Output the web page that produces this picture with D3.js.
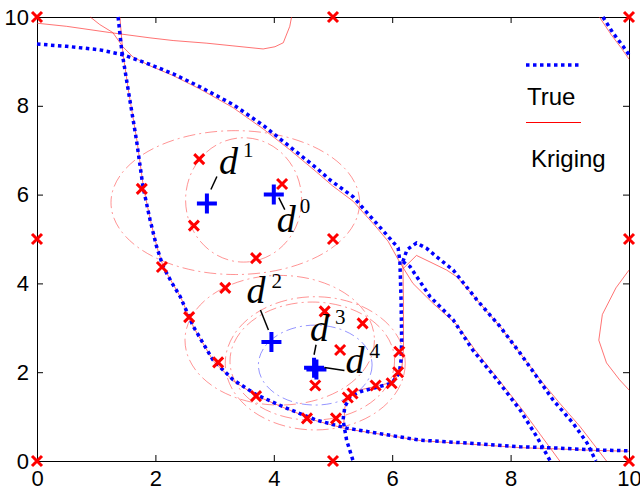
<!DOCTYPE html>
<html>
<head>
<meta charset="utf-8">
<script src="https://cdn.jsdelivr.net/npm/d3@7"></script>
<style>
    body { margin: 0; background: #ffffff; }
</style>
</head>
<body>
<script>

var width = 640,
    height = 491,
    plotLeft = 37, plotRight = 629, plotTop = 17, plotBottom = 461;

var tickValues = [0, 2, 4, 6, 8, 10];

// sample sites (red crosses)
var samples = [
    [0, 0], [0, 5], [0, 10], [5, 0], [5, 5], [5, 10], [10, 0], [10, 5], [10, 10],
    [2.74, 6.8], [2.65, 5.3], [4.14, 6.24], [1.77, 6.13], [3.7, 4.57], [2.11, 4.37],
    [3.18, 3.9], [2.57, 3.24], [3.06, 2.22], [3.7, 1.46], [4.56, 0.96], [5.05, 0.96],
    [4.86, 3.37], [5.5, 3.1], [5.12, 2.5], [4.7, 1.7], [5.25, 1.43], [5.33, 1.52],
    [5.72, 1.7], [5.99, 1.75], [6.1, 2.0], [6.12, 2.46]
];

// design points d^0 .. d^4 (blue plus)
var designNames = ['0', '1', '2', '3', '4'];
var designX = [4.0, 2.87, 3.96, 4.68, 4.72];
var designY = [6.0, 5.8, 2.68, 2.1, 2.06];

// true limit-state contours
var trueA = [
    [0, 9.39], [0.5, 9.34], [1.06, 9.26], [1.45, 9.15], [1.91, 8.93], [2.3, 8.72],
    [2.75, 8.43], [3.31, 8.03], [3.82, 7.56], [4.27, 7.08], [4.72, 6.6], [4.95, 6.33],
    [5.34, 5.95], [5.63, 5.51], [5.91, 5.09], [6.1, 4.8], [6.13, 4.49], [6.15, 3.63],
    [6.16, 2.73], [6.15, 2.28], [6.12, 1.98], [5.99, 1.75], [5.71, 1.65], [5.46, 1.56],
    [5.29, 1.45], [5.2, 1.22], [5.17, 0.92], [5.23, 0.47], [5.34, 0]
];
var trueB = [
    [1.37, 10], [1.43, 9.26], [1.54, 8.36], [1.68, 7.23], [1.79, 6.18], [1.91, 5.43],
    [2.02, 4.83], [2.13, 4.38], [2.28, 4.01], [2.42, 3.7], [2.64, 3.03], [2.97, 2.28],
    [3.31, 1.83], [3.71, 1.49], [4.16, 1.22], [4.72, 0.92], [5.23, 0.74], [5.91, 0.59],
    [6.47, 0.47], [7.31, 0.4], [8.16, 0.32], [8.83, 0.29], [9.39, 0.25], [10, 0.23]
];
var trueC = [
    [6.18, 4.49], [6.25, 4.76], [6.41, 4.91], [6.58, 4.79], [6.75, 4.6], [7.03, 4.3],
    [7.43, 3.63], [7.82, 3.03], [8.16, 2.43], [8.44, 1.9], [8.72, 1.37], [9.05, 0.86],
    [9.29, 0.41], [9.44, 0]
];
var trueD = [
    [6.18, 4.49], [6.3, 4.38], [6.64, 3.7], [7.03, 3.18], [7.36, 2.5], [7.77, 1.83],
    [8.16, 1.15], [8.44, 0.55], [8.67, 0]
];
var trueE = [[9.56, 10], [9.73, 9.64], [9.9, 9.34], [10, 9.15]];

// kriging estimate of the contours
var krigTop = [
    [0, 9.86], [0.5, 9.79], [1.23, 9.65], [1.91, 9.53], [2.3, 9.47], [2.87, 9.41],
    [3.31, 9.35], [3.82, 9.28], [4.02, 9.33], [4.16, 9.42], [4.27, 9.79], [4.3, 10]
];
var krigA = [
    [0.9, 10], [1.06, 9.83], [1.28, 9.65], [1.45, 9.33], [1.62, 9.1], [1.91, 8.9],
    [2.3, 8.68], [2.75, 8.38], [3.31, 7.96], [3.82, 7.48], [4.27, 7.01], [4.72, 6.51],
    [4.99, 6.2], [5.34, 5.85], [5.71, 5.3], [5.93, 4.95], [6.13, 4.47], [6.35, 4.0],
    [6.69, 3.55], [7.09, 3.07], [7.4, 2.5], [7.8, 1.83], [8.2, 1.15], [8.5, 0.6], [8.83, 0]
];
var krigLoop = [
    [6.18, 4.55], [6.19, 3.6], [6.19, 2.5], [6.16, 2.05], [6.02, 1.78], [5.72, 1.68],
    [5.45, 1.6], [5.27, 1.5], [5.2, 1.2], [5.18, 0.8]
];
var krigC = [
    [6.19, 4.34], [6.41, 4.63], [6.69, 4.45], [6.92, 4.3], [7.09, 4.15], [7.43, 3.63],
    [7.82, 3.03], [8.16, 2.43], [8.5, 1.83], [8.83, 1.3], [9.17, 0.78], [9.39, 0.4], [9.62, 0]
];
var krigB = [
    [1.4, 10], [1.45, 9.2], [1.55, 8.3], [1.69, 7.2], [1.8, 6.15], [1.92, 5.4],
    [2.03, 4.8], [2.14, 4.35], [2.43, 3.68], [2.65, 3.0], [2.98, 2.25], [3.32, 1.8],
    [3.72, 1.46], [4.17, 1.2], [4.73, 0.9], [5.24, 0.72], [5.92, 0.58], [6.48, 0.46],
    [7.32, 0.38], [8.17, 0.3], [8.84, 0.27], [9.4, 0.24], [10, 0.22]
];
var krigRight = [[10, 4.3], [9.78, 3.9], [9.55, 3.3], [9.49, 2.72], [9.62, 2.21], [9.84, 1.83], [10, 1.6]];
var krigE = [[9.5, 10], [9.7, 9.6], [9.87, 9.3], [10, 9.05]];

// kriging variance contours: cx, cy, rx, ry
var varEllipses = [
    [3.35, 5.82, 2.1, 1.62],
    [3.49, 5.88, 0.98, 1.4],
    [4.1, 2.72, 1.6, 1.46],
    [4.65, 2.25, 1.39, 1.33],
    [4.7, 2.2, 1.52, 1.5]
];
var innerEllipse = [4.7, 2.16, 0.96, 0.9];

var x = d3.scaleLinear().domain([0, 10]).range([plotLeft, plotRight]);
var y = d3.scaleLinear().domain([0, 10]).range([plotBottom, plotTop]);

var svg = d3.select('body').append('svg')
    .attr('width', width)
    .attr('height', height);

var line = d3.line()
    .x(function(d) { return x(d[0]); })
    .y(function(d) { return y(d[1]); });

// axes, ticks pointing inward
var font = '"Liberation Sans", Arial, sans-serif';

svg.append('g')
    .attr('transform', 'translate(0,' + plotBottom + ')')
    .call(d3.axisBottom(x).tickValues(tickValues).tickSize(-6).tickSizeOuter(0).tickPadding(9));
svg.append('g')
    .attr('transform', 'translate(' + plotLeft + ',0)')
    .call(d3.axisLeft(y).tickValues(tickValues).tickSize(-6).tickSizeOuter(0).tickPadding(8));
svg.append('g')
    .attr('transform', 'translate(0,' + plotTop + ')')
    .call(d3.axisTop(x).tickValues(tickValues).tickSize(-6).tickSizeOuter(0).tickFormat(''));
svg.append('g')
    .attr('transform', 'translate(' + plotRight + ',0)')
    .call(d3.axisRight(y).tickValues(tickValues).tickSize(-6).tickSizeOuter(0).tickFormat(''));

svg.selectAll('.tick text')
    .attr('font-family', font)
    .attr('font-size', '22px')
    .attr('fill', '#000');
svg.selectAll('.domain, .tick line').attr('stroke', '#000');

// variance contours
svg.selectAll('ellipse.var')
    .data(varEllipses)
    .enter().append('ellipse')
    .attr('class', 'var')
    .attr('cx', function(d) { return x(d[0]); })
    .attr('cy', function(d) { return y(d[1]); })
    .attr('rx', function(d) { return x(d[2]) - x(0); })
    .attr('ry', function(d) { return y(0) - y(d[3]); })
    .attr('fill', 'none')
    .attr('stroke', '#ff3030')
    .attr('stroke-opacity', 0.65)
    .attr('stroke-width', 0.8)
    .attr('stroke-dasharray', '12,4,2,4');

svg.append('ellipse')
    .attr('cx', x(innerEllipse[0]))
    .attr('cy', y(innerEllipse[1]))
    .attr('rx', x(innerEllipse[2]) - x(0))
    .attr('ry', y(0) - y(innerEllipse[3]))
    .attr('fill', 'none')
    .attr('stroke', '#4040ff')
    .attr('stroke-opacity', 0.7)
    .attr('stroke-width', 0.8)
    .attr('stroke-dasharray', '10,4,2,4');

// kriging contours
var krigLines = [krigTop, krigA, krigLoop, krigC, krigB, krigRight, krigE];
svg.selectAll('path.krig')
    .data(krigLines)
    .enter().append('path')
    .attr('class', 'krig')
    .attr('d', line)
    .attr('fill', 'none')
    .attr('stroke', '#ff2020')
    .attr('stroke-opacity', 0.7)
    .attr('stroke-width', 0.9);

// true contours
var trueLines = [trueA, trueB, trueC, trueD, trueE];
svg.selectAll('path.true')
    .data(trueLines)
    .enter().append('path')
    .attr('class', 'true')
    .attr('d', line)
    .attr('fill', 'none')
    .attr('stroke', '#0000ff')
    .attr('stroke-width', 3.5)
    .attr('stroke-dasharray', '3.5,3.5');

// samples
svg.selectAll('path.sample')
    .data(samples)
    .enter().append('path')
    .attr('class', 'sample')
    .attr('transform', function(d) { return 'translate(' + x(d[0]) + ',' + y(d[1]) + ')'; })
    .attr('d', 'M-5,-5L5,5M-5,5L5,-5')
    .attr('stroke', '#ff0000')
    .attr('stroke-width', 3);

// design points
var design = designNames.map(function(n, i) {
    return { name: n, x: designX[i], y: designY[i] };
});

svg.selectAll('path.design')
    .data(design)
    .enter().append('path')
    .attr('class', 'design')
    .attr('transform', function(d) { return 'translate(' + x(d.x) + ',' + y(d.y) + ')'; })
    .attr('d', 'M-10,0H10M0,-10V10')
    .attr('stroke', '#0000ff')
    .attr('stroke-width', 4);

// label placement relative to each plus: d glyph, superscript, leader line
var labelPos = {
    '0': { dx: 3,   dy: 37,  sx: 26, sy: 18,  l: [5, 3, 11, 15] },
    '1': { dx: 12,  dy: -29, sx: 36, sy: -46, l: [10, -27, 4, -14] },
    '2': { dx: -25, dy: -39, sx: 0,  sy: -54, l: [-11, -32, -3, -12] },
    '3': { dx: -4,  dy: -27, sx: 21, sy: -44, l: [2, -23, 0, -13] },
    '4': { dx: 29,  dy: 3,   sx: 53, sy: -12, l: [8, -2, 28, 1] }
};

var labels = svg.selectAll('g.lab')
    .data(design)
    .enter().append('g')
    .attr('class', 'lab')
    .attr('transform', function(d) { return 'translate(' + x(d.x) + ',' + y(d.y) + ')'; });

labels.append('line')
    .attr('x1', function(d) { return labelPos[d.name].l[0]; })
    .attr('y1', function(d) { return labelPos[d.name].l[1]; })
    .attr('x2', function(d) { return labelPos[d.name].l[2]; })
    .attr('y2', function(d) { return labelPos[d.name].l[3]; })
    .attr('stroke', '#000')
    .attr('stroke-width', 1.5);

labels.append('text')
    .attr('x', function(d) { return labelPos[d.name].dx; })
    .attr('y', function(d) { return labelPos[d.name].dy; })
    .attr('font-family', '"Liberation Serif", "Times New Roman", serif')
    .attr('font-style', 'italic')
    .attr('font-size', '38px')
    .text('d');

labels.append('text')
    .attr('x', function(d) { return labelPos[d.name].sx; })
    .attr('y', function(d) { return labelPos[d.name].sy; })
    .attr('font-family', '"Liberation Serif", "Times New Roman", serif')
    .attr('font-size', '21px')
    .text(function(d) { return d.name; });

// legend
var legend = svg.append('g');
legend.append('line')
    .attr('x1', 526).attr('x2', 580).attr('y1', 65).attr('y2', 65)
    .attr('stroke', '#0000ff')
    .attr('stroke-width', 3.5)
    .attr('stroke-dasharray', '3.5,3.5');
legend.append('text')
    .attr('x', 527).attr('y', 105)
    .attr('font-family', font).attr('font-size', '24px')
    .text('True');
legend.append('line')
    .attr('x1', 526).attr('x2', 581).attr('y1', 122.5).attr('y2', 122.5)
    .attr('stroke', '#ff0000')
    .attr('stroke-width', 1);
legend.append('text')
    .attr('x', 531).attr('y', 167)
    .attr('font-family', font).attr('font-size', '24px')
    .text('Kriging');

</script>
</body>
</html>
